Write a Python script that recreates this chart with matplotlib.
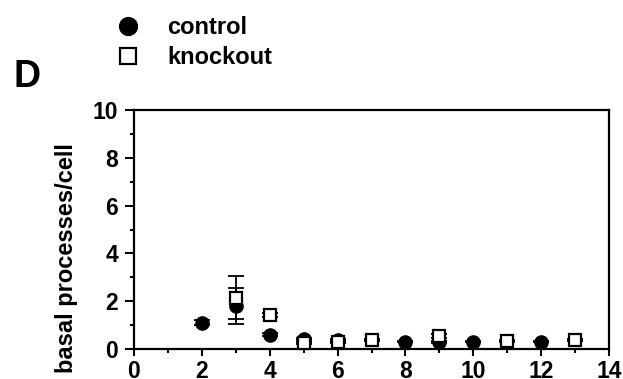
import matplotlib
matplotlib.use('Agg')
import matplotlib.pyplot as plt
from matplotlib.ticker import MultipleLocator

plt.rcParams['font.family'] = ['Liberation Sans', 'DejaVu Sans']
plt.rcParams['font.weight'] = 'bold'

# control (filled circles)
ctrl_x = [2, 3, 4, 5, 6, 8, 9, 10, 12]
ctrl_y = [1.1, 1.8, 0.6, 0.42, 0.38, 0.31, 0.3, 0.31, 0.31]
ctrl_err = [0.1, 0.75, 0.05, 0.05, 0.05, 0.03, 0.05, 0.03, 0.03]

# knockout (open squares)
ko_x = [3, 4, 5, 6, 7, 9, 11, 13]
ko_y = [2.15, 1.42, 0.24, 0.31, 0.38, 0.54, 0.33, 0.38]
ko_err = [0.9, 0.1, 0.05, 0.05, 0.05, 0.1, 0.05, 0.05]

W, H = 623, 379
fig = plt.figure(figsize=(W / 100, H / 100), dpi=100)
ax = fig.add_axes([134 / W, 1 - 349 / H, 475 / W, 239 / H])

ax.errorbar(ctrl_x, ctrl_y, yerr=ctrl_err, fmt='none', ecolor='black',
            elinewidth=1.3, capsize=5.5, capthick=1.3, zorder=2, clip_on=False)
ax.errorbar(ko_x, ko_y, yerr=ko_err, fmt='none', ecolor='black',
            elinewidth=1.3, capsize=5.5, capthick=1.3, zorder=2, clip_on=False)
ax.plot(ctrl_x, ctrl_y, 'o', color='black', markersize=9.5, zorder=3,
        clip_on=False, label='control')
ax.plot(ko_x, ko_y, 's', markerfacecolor='white', markeredgecolor='black',
        markeredgewidth=1.6, markersize=8.5, zorder=4, clip_on=False,
        label='knockout')

ax.set_xlim(0, 14)
ax.set_ylim(0, 10)
ax.xaxis.set_major_locator(MultipleLocator(2))
ax.xaxis.set_minor_locator(MultipleLocator(1))
ax.yaxis.set_major_locator(MultipleLocator(2))
ax.yaxis.set_minor_locator(MultipleLocator(1))
ax.tick_params(which='major', direction='out', length=5, width=1.5,
               labelsize=16.5, pad=3)
ax.tick_params(which='minor', direction='out', length=3, width=1.5)
ax.tick_params(axis='y', which='major', length=6.5, pad=5)
for s in ax.spines.values():
    s.set_linewidth(1.6)

fig.text(66 / W, 1 - 143 / H, 'basal processes/cell', rotation=90,
         ha='center', va='top', fontsize=17, fontweight='bold')
fig.text(13 / W, 1 - 87 / H, 'D', ha='left', va='baseline',
         fontsize=27, fontweight='bold')

ax.legend(loc='upper left', bbox_to_anchor=(115 / W, 1 - 16 / H),
          bbox_transform=fig.transFigure, frameon=False, fontsize=17,
          handlelength=1.1, handletextpad=1.1, labelspacing=0.3,
          markerscale=1.35, borderpad=0, borderaxespad=0, numpoints=1)

fig.savefig('out.png', dpi=100)
